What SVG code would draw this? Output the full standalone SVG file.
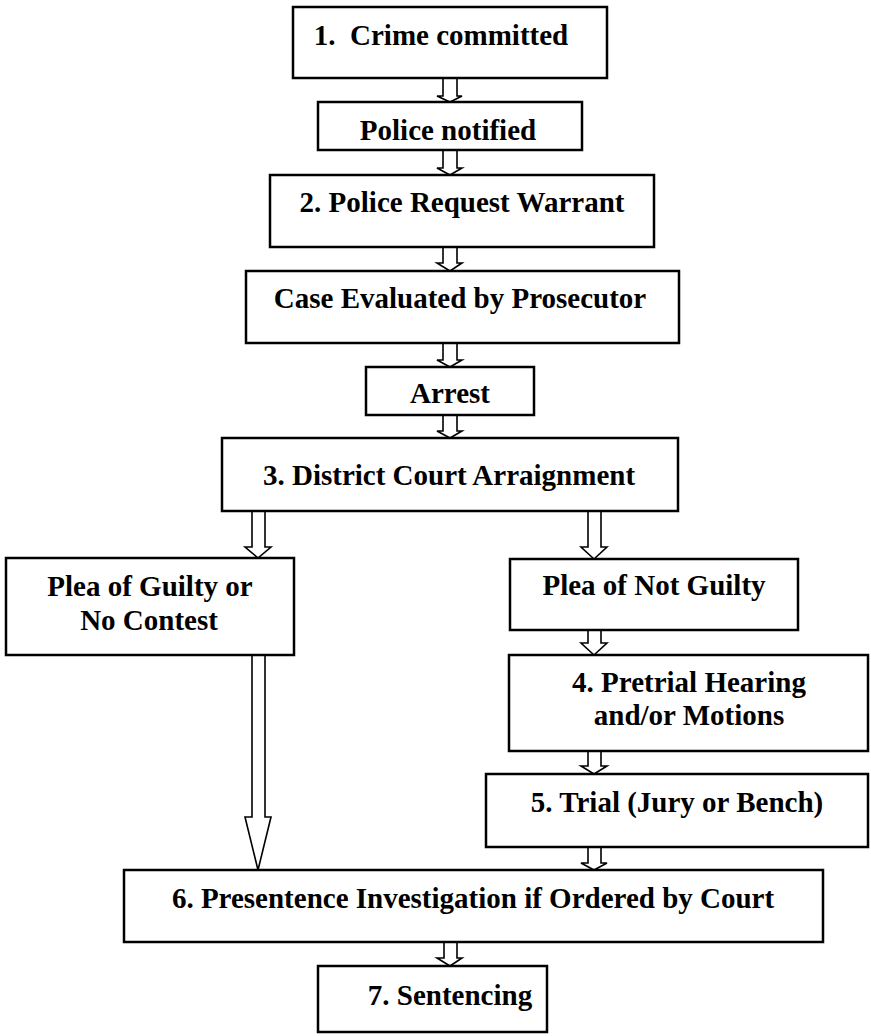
<svg xmlns="http://www.w3.org/2000/svg" width="871" height="1036" viewBox="0 0 871 1036">
<style>
.box{fill:#fff;stroke:#000;stroke-width:2.5}
.t{font-family:"Liberation Serif","Times New Roman",serif;font-weight:bold;font-size:29px;fill:#000;text-anchor:middle;white-space:pre}
.arr{fill:#fff;stroke:#000;stroke-width:1.6;stroke-linejoin:miter}
</style>
<rect width="871" height="1036" fill="#fff"/>
<g id="connectors">
<polygon class="arr" points="443,78 457,78 457,96 462,96 450,102 437,96 443,96"/>
<polygon class="arr" points="443,150 457,150 457,168 462,168 450,175 437,168 443,168"/>
<polygon class="arr" points="443,247 457,247 457,263 462,263 450,271 437,263 443,263"/>
<polygon class="arr" points="443,343 457,343 457,360 462,360 450,367 437,360 443,360"/>
<polygon class="arr" points="443,415 457,415 457,431 462,431 450,438 437,431 443,431"/>
<polygon class="arr" points="252,511 265,511 265,547 271,547 258,558 245,547 252,547"/>
<polygon class="arr" points="588,511 601,511 601,547 607,547 594,559 581,547 588,547"/>
<polygon class="arr" points="252,655 265,655 265,817 271,817 258,870 245,817 252,817"/>
<polygon class="arr" points="588,630 601,630 601,643 607,643 594,655 581,643 588,643"/>
<polygon class="arr" points="588,751 601,751 601,766 607,766 594,774 581,766 588,766"/>
<polygon class="arr" points="588,847 601,847 601,863 607,863 594,870 581,863 588,863"/>
<polygon class="arr" points="444,942 457,942 457,958 462,958 450,966 437,958 444,958"/>
</g>
<g id="n1"><rect class="box" x="293" y="7" width="314" height="71"/><text class="t" x="441" y="45">1.  Crime committed</text></g>
<g id="n-police"><rect class="box" x="318" y="102" width="264" height="48"/><text class="t" x="448" y="140">Police notified</text></g>
<g id="n2"><rect class="box" x="270" y="175" width="384" height="72"/><text class="t" x="462" y="212">2. Police Request Warrant</text></g>
<g id="n-case"><rect class="box" x="246" y="271" width="433" height="72"/><text class="t" x="460" y="308">Case Evaluated by Prosecutor</text></g>
<g id="n-arrest"><rect class="box" x="366" y="367" width="168" height="48"/><text class="t" x="450" y="403">Arrest</text></g>
<g id="n3"><rect class="box" x="222" y="438" width="456" height="73"/><text class="t" x="449" y="485">3. District Court Arraignment</text></g>
<g id="n-guilty"><rect class="box" x="6" y="558" width="288" height="97"/><text class="t" x="150" y="596">Plea of Guilty or</text><text class="t" x="149" y="630">No Contest</text></g>
<g id="n-notguilty"><rect class="box" x="510" y="559" width="288" height="71"/><text class="t" x="654" y="595">Plea of Not Guilty</text></g>
<g id="n4"><rect class="box" x="509" y="655" width="359" height="96"/><text class="t" x="689" y="692">4. Pretrial Hearing</text><text class="t" x="689" y="725">and/or Motions</text></g>
<g id="n5"><rect class="box" x="486" y="774" width="382" height="73"/><text class="t" x="677" y="812">5. Trial (Jury or Bench)</text></g>
<g id="n6"><rect class="box" x="124" y="870" width="699" height="72"/><text class="t" x="473" y="908">6. Presentence Investigation if Ordered by Court</text></g>
<g id="n7"><rect class="box" x="318" y="966" width="229" height="66"/><text class="t" x="450" y="1005">7. Sentencing</text></g>
</svg>
